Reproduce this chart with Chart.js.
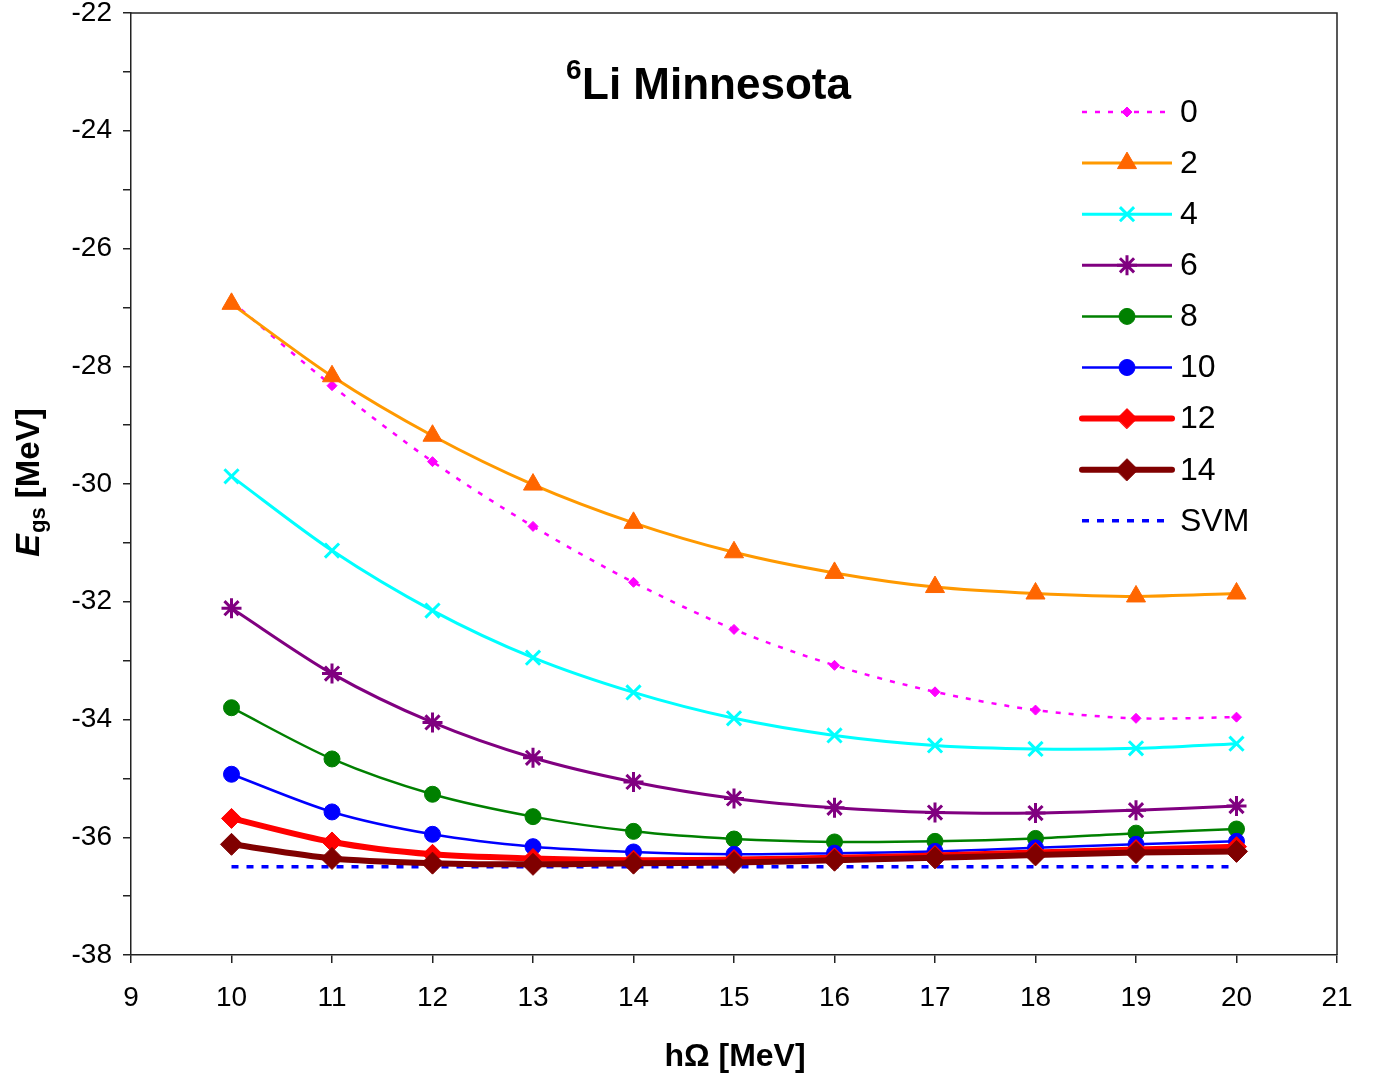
<!DOCTYPE html>
<html><head><meta charset="utf-8">
<script src="https://cdn.jsdelivr.net/npm/chart.js@4/dist/chart.umd.min.js"></script>
<style>html,body{margin:0;padding:0;background:#fff;overflow:hidden}</style>
</head><body>
<canvas id="c" width="1380" height="1078" style="width:1380px;height:1078px;display:block"></canvas>
<script>
// ---- data ----
const hOmega = [10, 11, 12, 13, 14, 15, 16, 17, 18, 19, 20];
const nmax0  = [-26.90, -28.33, -29.62, -30.72, -31.67, -32.47, -33.08, -33.53, -33.84, -33.98, -33.96];
const nmax2  = [-26.94, -28.17, -29.18, -30.01, -30.66, -31.16, -31.51, -31.75, -31.86, -31.91, -31.86];
const nmax4  = [-29.87, -31.13, -32.15, -32.95, -33.54, -33.98, -34.27, -34.44, -34.50, -34.49, -34.41];
const nmax6  = [-32.11, -33.22, -34.05, -34.65, -35.06, -35.34, -35.50, -35.58, -35.59, -35.54, -35.47];
const nmax8  = [-33.80, -34.67, -35.27, -35.65, -35.90, -36.03, -36.08, -36.07, -36.02, -35.93, -35.86];
const nmax10 = [-34.93, -35.57, -35.95, -36.16, -36.25, -36.29, -36.27, -36.24, -36.18, -36.12, -36.07];
const nmax12 = [-35.68, -36.08, -36.29, -36.36, -36.39, -36.38, -36.35, -36.31, -36.26, -36.21, -36.16];
const nmax14 = [-36.12, -36.36, -36.44, -36.46, -36.44, -36.43, -36.39, -36.35, -36.30, -36.26, -36.24];
const svm    = [-36.5, -36.5, -36.5, -36.5, -36.5, -36.5, -36.5, -36.5, -36.5, -36.5, -36.5];
const seriesLabels = ['0', '2', '4', '6', '8', '10', '12', '14', 'SVM'];
const xTicks = [9, 10, 11, 12, 13, 14, 15, 16, 17, 18, 19, 20, 21];
const yTicks = [-22, -24, -26, -28, -30, -32, -34, -36, -38];
const titleSup = '6', titleMain = 'Li Minnesota';
const xTitle = 'h\u03A9 [MeV]';

const FONT = "'Liberation Sans', Arial, Helvetica, sans-serif";
Chart.defaults.font.family = FONT;
Chart.defaults.color = '#000';

const toXY = vals => hOmega.map((x, i) => ({x: x, y: vals[i]}));

const styles = [
  {line:'#FF00FF', pt:'#FF00FF', w:2.5, dash:[5,8], ps:'rectRot', r:5, pbw:1},
  {line:'#FF9900', pt:'#FF6600', w:3, dash:[], ps:'triangle', r:11, pbw:1},
  {line:'#00FFFF', pt:'#00FFFF', w:3, dash:[], ps:'crossRot', r:10, pbw:3},
  {line:'#800080', pt:'#800080', w:3, dash:[], ps:'star', r:10, pbw:3},
  {line:'#008000', pt:'#008000', w:2.5, dash:[], ps:'circle', r:8, pbw:1},
  {line:'#0000FF', pt:'#0000FF', w:2.5, dash:[], ps:'circle', r:8, pbw:1},
  {line:'#FF0000', pt:'#FF0000', w:6, dash:[], ps:'rectRot', r:10, pbw:1},
  {line:'#800000', pt:'#800000', w:6, dash:[], ps:'rectRot', r:11, pbw:1},
  {line:'#0000FF', pt:'#0000FF', w:3.5, dash:[7,8], ps:false, r:0, pbw:0}
];
const allSeries = [nmax0, nmax2, nmax4, nmax6, nmax8, nmax10, nmax12, nmax14, svm];
const orders = [8, 7, 6, 5, 4, 3, 2, 1, 9];

const datasets = allSeries.map((vals, i) => {
  const s = styles[i];
  return {
    label: seriesLabels[i],
    data: toXY(vals),
    borderColor: s.line,
    backgroundColor: s.pt,
    borderWidth: s.w,
    borderDash: s.dash,
    pointStyle: s.ps,
    pointRadius: s.r,
    pointBorderWidth: s.pbw,
    pointBackgroundColor: s.pt,
    pointBorderColor: s.pt,
    tension: i === 8 ? 0 : 0.3,
    fill: false,
    order: orders[i]
  };
});

const decor = {
  id: 'decor',
  afterDraw(chart) {
    const ctx = chart.ctx, a = chart.chartArea;
    ctx.save();
    // frame top/right
    ctx.strokeStyle = '#222'; ctx.lineWidth = 1.5;
    ctx.beginPath();
    ctx.moveTo(a.left, a.top); ctx.lineTo(a.right, a.top); ctx.lineTo(a.right, a.bottom);
    ctx.stroke();
    // title
    ctx.fillStyle = '#000';
    ctx.textBaseline = 'alphabetic'; ctx.textAlign = 'left';
    ctx.font = 'bold 28px ' + FONT;
    ctx.fillText(titleSup, 566, 79);
    ctx.font = 'bold 44px ' + FONT;
    ctx.fillText(titleMain, 582, 99);
    // x title
    ctx.font = 'bold 32px ' + FONT;
    ctx.textAlign = 'center';
    ctx.fillText(xTitle, (a.left + a.right) / 2 + 1, 1066);
    // y title: E_gs [MeV]
    ctx.save();
    ctx.translate(39, 483);
    ctx.rotate(-Math.PI / 2);
    ctx.textAlign = 'left';
    const fE = 'italic bold 34px ' + FONT, fS = 'bold 22px ' + FONT, fM = 'bold 33px ' + FONT;
    ctx.font = fE; const wE = ctx.measureText('E').width;
    ctx.font = fS; const wS = ctx.measureText('gs').width;
    ctx.font = fM; const wM = ctx.measureText(' [MeV]').width;
    let x0 = -(wE + wS + wM) / 2;
    ctx.font = fE; ctx.fillText('E', x0, 0); x0 += wE + 1;
    ctx.font = fS; ctx.fillText('gs', x0, 6); x0 += wS;
    ctx.font = fM; ctx.fillText(' [MeV]', x0, 0);
    ctx.restore();
    // legend
    const lx0 = 1082, lx1 = 1172, mx = 1127, tx = 1180;
    chart.data.datasets.forEach((ds, i) => {
      const y = 112 + i * 51.1;
      ctx.save();
      ctx.strokeStyle = ds.borderColor;
      ctx.lineWidth = ds.borderWidth;
      ctx.setLineDash(ds.borderDash || []);
      ctx.lineCap = ds.borderWidth > 4 ? 'round' : 'butt';
      ctx.beginPath(); ctx.moveTo(lx0, y); ctx.lineTo(lx1, y); ctx.stroke();
      ctx.setLineDash([]);
      if (ds.pointStyle) {
        ctx.fillStyle = ds.pointBackgroundColor;
        ctx.strokeStyle = ds.pointBorderColor;
        ctx.lineWidth = ds.pointBorderWidth;
        Chart.helpers.drawPoint(ctx, {pointStyle: ds.pointStyle, radius: ds.pointRadius, rotation: 0, borderWidth: ds.pointBorderWidth}, mx, y);
      }
      ctx.restore();
      ctx.fillStyle = '#000';
      ctx.font = '32px ' + FONT;
      ctx.textAlign = 'left'; ctx.textBaseline = 'middle';
      ctx.fillText(ds.label, tx, y + 1);
    });
    ctx.restore();
  }
};

new Chart(document.getElementById('c'), {
  type: 'line',
  data: {datasets: datasets},
  options: {
    responsive: false,
    animation: false,
    devicePixelRatio: 1,
    layout: {padding: {top: 12, right: 43, left: 0, bottom: 0}},
    plugins: {legend: {display: false}, tooltip: {enabled: false}, title: {display: false}},
    scales: {
      x: {
        type: 'linear', min: 9, max: 21,
        afterBuildTicks: s => { s.ticks = xTicks.map(v => ({value: v})); },
        afterFit: s => { s.height = 123; s.paddingLeft = 0; s.paddingRight = 0; },
        grid: {drawOnChartArea: false, drawTicks: true, tickLength: 8, color: '#222', lineWidth: 1.5},
        border: {display: true, color: '#222', width: 1.5},
        ticks: {font: {size: 28}, padding: 18, color: '#000', maxRotation: 0, autoSkip: false}
      },
      y: {
        type: 'linear', min: -38, max: -22,
        afterBuildTicks: s => {
          const t = [];
          for (let k = 0; k < yTicks.length; k++) {
            t.push({value: yTicks[k]});
            if (k < yTicks.length - 1) t.push({value: (yTicks[k] + yTicks[k + 1]) / 2});
          }
          s.ticks = t;
        },
        afterFit: s => { s.width = 131; s.paddingTop = 0; s.paddingBottom = 0; },
        grid: {drawOnChartArea: false, drawTicks: true, tickLength: 8, color: '#222', lineWidth: 1.5},
        border: {display: true, color: '#222', width: 1.5},
        ticks: {
          font: {size: 28}, padding: 11, color: '#000', autoSkip: false,
          callback: v => (yTicks.indexOf(v) >= 0 ? String(v) : '')
        }
      }
    }
  },
  plugins: [decor]
});
</script>
</body></html>
